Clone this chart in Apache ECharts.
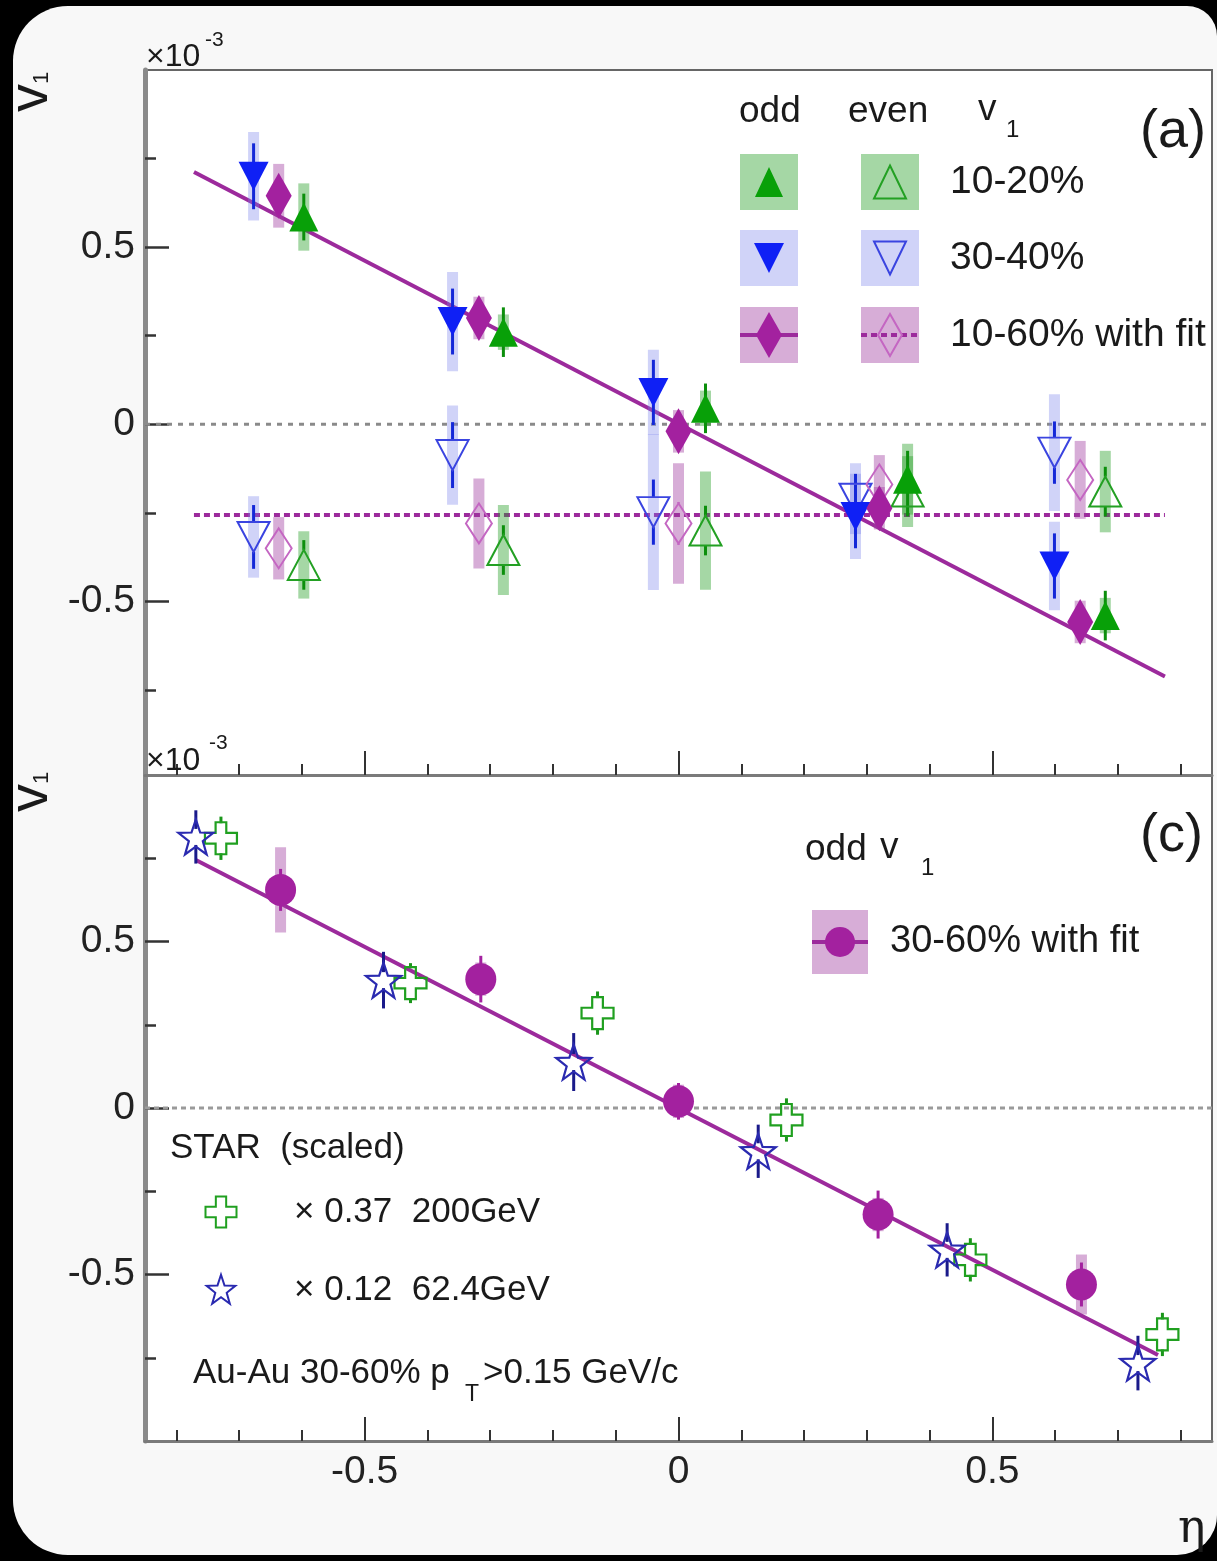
<!DOCTYPE html>
<html>
<head>
<meta charset="utf-8">
<script src="https://cdn.jsdelivr.net/npm/echarts@6/dist/echarts.min.js"></script>
<style>
html, body { margin: 0; padding: 0; background: #000; }
#card { position: absolute; left: 13px; top: 6px; width: 1204px; height: 1549px; background: #f8f8f8; border-radius: 55px 30px 40px 55px; }
#chart { position: absolute; left: 0; top: 0; width: 1217px; height: 1561px; }
</style>
</head>
<body>
<div id="card"></div>
<div id="chart"></div>
<script>
var FONT = '"Liberation Sans", Helvetica, Arial, sans-serif';

// tick positions
var xMajor = [-0.5, 0, 0.5];
var xMinor = [-0.8, -0.7, -0.6, -0.4, -0.3, -0.2, -0.1, 0.1, 0.2, 0.3, 0.4, 0.6, 0.7, 0.8];
var yMajor = [-0.5, 0, 0.5];
var yMinor = [-0.75, -0.25, 0.25, 0.75];

// panel (a): eta of each centrality (points are shifted a bit)
var etaA3040 = [-0.677, -0.360, -0.040, 0.282, 0.599];
var etaA1060 = [-0.637, -0.318, 0.000, 0.320, 0.640];
var etaA1020 = [-0.597, -0.279, 0.043, 0.365, 0.680];

// panel (a): odd v1, x1e-3
var odd3040 = [0.70, 0.29, 0.09, -0.26, -0.40];
var odd3040Stat = [0.093, 0.093, 0.092, 0.09, 0.092];
var odd3040Sys = [0.125, 0.14, 0.12, 0.12, 0.125];
var odd1060 = [0.645, 0.30, -0.02, -0.237, -0.558];
var odd1060Stat = [0.05, 0.05, 0.05, 0.05, 0.05];
var odd1060Sys = [0.09, 0.06, 0.06, 0.06, 0.06];
var odd1020 = [0.585, 0.26, 0.045, -0.155, -0.54];
var odd1020Stat = [0.066, 0.07, 0.07, 0.08, 0.07];
var odd1020Sys = [0.095, 0.05, 0.05, 0.1, 0.05];

// panel (a): even v1
var even3040 = [-0.318, -0.087, -0.248, -0.21, -0.08];
var even3040Stat = [0.09, 0.093, 0.092, 0.07, 0.088];
var even3040Sys = [0.115, 0.14, 0.22, 0.1, 0.165];
var even1060 = [-0.35, -0.28, -0.28, -0.17, -0.157];
var even1060Stat = [0.05, 0.05, 0.06, 0.05, 0.05];
var even1060Sys = [0.088, 0.127, 0.17, 0.083, 0.11];
var even1020 = [-0.397, -0.355, -0.30, -0.19, -0.19];
var even1020Stat = [0.07, 0.07, 0.07, 0.07, 0.07];
var even1020Sys = [0.095, 0.127, 0.167, 0.1, 0.115];

// panel (a): fits
var fitEtaA = [-0.772, 0.775];
var oddFitA = [0.712, -0.712];
var evenFitA = [-0.256, -0.256];

// panel (c): 30-60% odd v1
var etaC3060 = [-0.634, -0.315, 0.0, 0.318, 0.642];
var odd3060 = [0.655, 0.387, 0.02, -0.32, -0.53];
var odd3060Stat = [0.063, 0.07, 0.055, 0.072, 0.066];
var odd3060Sys = [0.128, 0.05, 0.05, 0.05, 0.09];
var fitEtaC = [-0.769, 0.764];
var oddFitC = [0.745, -0.742];

// panel (c): STAR scaled
var eta200 = [-0.729, -0.427, -0.129, 0.172, 0.465, 0.771];
var star200 = [0.81, 0.375, 0.285, -0.036, -0.456, -0.68];
var star200Err = [0.065, 0.06, 0.065, 0.065, 0.065, 0.065];
var eta62 = [-0.769, -0.47, -0.167, 0.127, 0.428, 0.732];
var star62 = [0.814, 0.384, 0.138, -0.13, -0.426, -0.766];
var star62Err = [0.08, 0.085, 0.087, 0.08, 0.08, 0.082];

var zeroEta = [-0.85, 0.85];
var zeroV = [0, 0];

var C = {
    green: '#08a008', greenOpen: '#23a023', greenBar: '#0c8f0c', greenBox: 'rgba(40,160,40,0.42)',
    blue: '#0f20f5', blueOpen: '#3a44e0', blueBar: '#1428d8', blueBox: 'rgba(120,130,235,0.35)',
    purple: '#a3219f', purpleOpen: '#c466c2', purpleBox: 'rgba(160,60,160,0.42)',
    fit: '#9c2a9c', navy: '#2a2ab0', navyBar: '#1a1a8a'
};

// marker outlines, unit box 0..1
var crossPts = [[1/3, 0], [2/3, 0], [2/3, 1/3], [1, 1/3], [1, 2/3], [2/3, 2/3], [2/3, 1], [1/3, 1], [1/3, 2/3], [0, 2/3], [0, 1/3], [1/3, 1/3]];
var starPts = (function () {
    var pts = [];
    for (var k = 0; k < 10; k++) {
        var a = -Math.PI / 2 + k * Math.PI / 5;
        var r = k % 2 ? 0.2 : 0.5;
        pts.push([0.5 + r * Math.cos(a), (0.5 + r * Math.sin(a) - 0.0225) / 0.905]);
    }
    return pts;
})();
function toPath(pts) {
    return 'path://M' + pts.map(function (p) { return (p[0] * 100).toFixed(1) + ',' + (p[1] * 100).toFixed(1); }).join(' L') + ' Z';
}
function placePts(pts, cx, cy, w, h) {
    return pts.map(function (p) { return [cx - w / 2 + p[0] * w, cy - h / 2 + p[1] * h]; });
}

function pairs(xs, ys) {
    return xs.map(function (x, i) { return [x, ys[i]]; });
}
function fmt(v) { return v === 0 ? '0' : String(v); }

function xAxes(grid, labels) {
    return [{
        gridIndex: grid, type: 'value', min: -0.85, max: 0.85, position: 'bottom',
        axisLine: { show: true, onZero: false, lineStyle: { color: '#7a7a7a', width: 3 } },
        axisTick: { show: true, inside: true, length: 24, customValues: xMajor, lineStyle: { color: '#333', width: 2 } },
        axisLabel: { show: labels, customValues: xMajor, margin: 12, fontSize: 39, fontFamily: FONT, color: '#222', formatter: fmt },
        splitLine: { show: false }
    }, {
        gridIndex: grid, type: 'value', min: -0.85, max: 0.85, position: 'bottom',
        axisLine: { show: false, onZero: false },
        axisTick: { show: true, inside: true, length: 11, customValues: xMinor, lineStyle: { color: '#333', width: 2 } },
        axisLabel: { show: false }, splitLine: { show: false }
    }];
}
function yAxes(grid, min, max) {
    return [{
        gridIndex: grid, type: 'value', min: min, max: max, position: 'left',
        axisLine: { show: true, onZero: false, lineStyle: { color: '#8a8a8a', width: 5 } },
        axisTick: { show: true, inside: true, length: 24, customValues: yMajor, lineStyle: { color: '#333', width: 2.5 } },
        axisLabel: { show: true, customValues: yMajor, margin: 10, fontSize: 39, fontFamily: FONT, color: '#222', formatter: fmt },
        splitLine: { show: false }
    }, {
        gridIndex: grid, type: 'value', min: min, max: max, position: 'left',
        axisLine: { show: false, onZero: false },
        axisTick: { show: true, inside: true, length: 11, customValues: yMinor, lineStyle: { color: '#333', width: 2.5 } },
        axisLabel: { show: false }, splitLine: { show: false }
    }];
}

function lineSeries(ax, xs, ys, color, width, type, z) {
    return {
        type: 'line', xAxisIndex: ax, yAxisIndex: ax, data: pairs(xs, ys), symbol: 'none', silent: true, z: z,
        lineStyle: { color: color, width: width, type: type }
    };
}

function boxSeries(ax, xs, ys, sys, color) {
    return {
        type: 'custom', xAxisIndex: ax, yAxisIndex: ax, z: 3, silent: true,
        data: xs.map(function (x, i) { return [x, ys[i] + sys[i], ys[i] - sys[i]]; }),
        encode: { x: 0, y: [1, 2] },
        renderItem: function (params, api) {
            var hi = api.coord([api.value(0), api.value(1)]);
            var lo = api.coord([api.value(0), api.value(2)]);
            return { type: 'rect', shape: { x: hi[0] - 5.5, y: hi[1], width: 11, height: lo[1] - hi[1] }, style: { fill: color } };
        }
    };
}

function errSeries(ax, xs, ys, err, color, gap) {
    return {
        type: 'custom', xAxisIndex: ax, yAxisIndex: ax, z: 4, silent: true,
        data: xs.map(function (x, i) { return [x, ys[i], ys[i] + err[i], ys[i] - err[i]]; }),
        encode: { x: 0, y: [2, 3] },
        renderItem: function (params, api) {
            var c = api.coord([api.value(0), api.value(1)]);
            var hi = api.coord([api.value(0), api.value(2)]);
            var lo = api.coord([api.value(0), api.value(3)]);
            var kids = [];
            if (c[1] - gap > hi[1]) kids.push({ type: 'line', shape: { x1: c[0], y1: hi[1], x2: c[0], y2: c[1] - gap }, style: { stroke: color, lineWidth: 3 } });
            if (c[1] + gap < lo[1]) kids.push({ type: 'line', shape: { x1: c[0], y1: c[1] + gap, x2: c[0], y2: lo[1] }, style: { stroke: color, lineWidth: 3 } });
            return { type: 'group', children: kids };
        }
    };
}

function markSeries(ax, xs, ys, symbol, size, rot, fill, stroke, bw) {
    return {
        type: 'scatter', xAxisIndex: ax, yAxisIndex: ax, z: 5, silent: true,
        data: pairs(xs, ys), symbol: symbol, symbolSize: size, symbolRotate: rot,
        itemStyle: { color: fill, borderColor: stroke || fill, borderWidth: stroke ? (bw || 2) : 0, opacity: 1 }
    };
}

var series = [
    // panel (a)
    lineSeries(0, zeroEta, zeroV, '#8a8a8a', 3, [5, 6], 2),
    lineSeries(0, fitEtaA, evenFitA, C.fit, 4, [6, 4], 2),
    lineSeries(0, fitEtaA, oddFitA, C.fit, 4, 'solid', 2),
    boxSeries(0, etaA3040, odd3040, odd3040Sys, C.blueBox),
    boxSeries(0, etaA1060, odd1060, odd1060Sys, C.purpleBox),
    boxSeries(0, etaA1020, odd1020, odd1020Sys, C.greenBox),
    boxSeries(0, etaA3040, even3040, even3040Sys, C.blueBox),
    boxSeries(0, etaA1060, even1060, even1060Sys, C.purpleBox),
    boxSeries(0, etaA1020, even1020, even1020Sys, C.greenBox),
    errSeries(0, etaA3040, odd3040, odd3040Stat, C.blueBar, 0),
    errSeries(0, etaA1060, odd1060, odd1060Stat, C.purple, 0),
    errSeries(0, etaA1020, odd1020, odd1020Stat, C.greenBar, 0),
    errSeries(0, etaA3040, even3040, even3040Stat, C.blueBar, 15),
    errSeries(0, etaA1060, even1060, even1060Stat, C.purpleOpen, 20),
    errSeries(0, etaA1020, even1020, even1020Stat, C.greenBar, 15),
    markSeries(0, etaA3040, even3040, 'triangle', [32, 30], 180, 'rgba(0,0,0,0)', C.blueOpen),
    markSeries(0, etaA1060, even1060, 'diamond', [26, 40], 0, 'rgba(0,0,0,0)', C.purpleOpen),
    markSeries(0, etaA1020, even1020, 'triangle', [32, 30], 0, 'rgba(0,0,0,0)', C.greenOpen),
    markSeries(0, etaA3040, odd3040, 'triangle', [30, 29], 180, C.blue),
    markSeries(0, etaA1060, odd1060, 'diamond', [26, 46], 0, C.purple),
    markSeries(0, etaA1020, odd1020, 'triangle', [29, 29], 0, C.green),
    // panel (c)
    lineSeries(2, zeroEta, zeroV, '#9a9a9a', 3, [5, 4], 2),
    lineSeries(2, fitEtaC, oddFitC, C.fit, 4, 'solid', 2),
    boxSeries(2, etaC3060, odd3060, odd3060Sys, C.purpleBox),
    errSeries(2, etaC3060, odd3060, odd3060Stat, C.purple, 0),
    errSeries(2, eta200, star200, star200Err, '#1a961a', 15),
    errSeries(2, eta62, star62, star62Err, C.navyBar, 8),
    markSeries(2, eta200, star200, toPath(crossPts), 32, 0, 'rgba(0,0,0,0)', '#20a020', 2.2),
    markSeries(2, eta62, star62, toPath(starPts), 35, 0, 'rgba(0,0,0,0)', C.navy, 2.2),
    markSeries(2, etaC3060, odd3060, 'circle', [31, 32], 0, C.purple)
];

// graphic helpers for legends and titles
function txt(x, y, s, size, o) {
    o = o || {};
    return {
        type: 'text', x: x, y: y, rotation: o.rot || 0, z: 100,
        style: {
            text: s, fontSize: size, fontFamily: o.family || FONT, fill: '#1a1a1a',
            align: 'left', verticalAlign: 'middle', textAlign: 'left', textVerticalAlign: 'middle'
        }
    };
}
function rect(cx, cy, w, h, fill) {
    return { type: 'rect', z: 100, shape: { x: cx - w / 2, y: cy - h / 2, width: w, height: h }, style: { fill: fill } };
}
function poly(pts, style) {
    return { type: 'polygon', z: 102, shape: { points: pts }, style: style };
}
function tri(cx, cy, w, h, down, style) {
    var t = down ? 1 : -1;
    return poly([[cx, cy + t * h / 2], [cx + w / 2, cy - t * h / 2], [cx - w / 2, cy - t * h / 2]], style);
}
function dia(cx, cy, w, h, style) {
    return poly([[cx, cy - h / 2], [cx + w / 2, cy], [cx, cy + h / 2], [cx - w / 2, cy]], style);
}
function hline(x1, x2, y, style) {
    return { type: 'line', z: 101, shape: { x1: x1, y1: y, x2: x2, y2: y }, style: style };
}

var open = function (c) { return { fill: 'none', stroke: c, lineWidth: 2 }; };
var graphics = [
    // axis titles
    txt(32, 112, 'v', 56, { rot: Math.PI / 2 }),
    txt(42, 84, '1', 22, { rot: Math.PI / 2 }),
    txt(32, 812, 'v', 56, { rot: Math.PI / 2 }),
    txt(42, 784, '1', 22, { rot: Math.PI / 2 }),
    txt(146, 57, '\u00d710', 32),
    txt(205, 40, '-3', 21),
    txt(146, 761, '\u00d710', 32),
    txt(209, 743, '-3', 21),
    txt(1178, 1530, '\u03b7', 46, { family: '"DejaVu Serif", "Liberation Serif", serif' }),
    // legend (a)
    txt(1140, 132, '(a)', 54),
    txt(739, 112, 'odd', 37),
    txt(848, 112, 'even', 37),
    txt(978, 110, 'v', 37),
    txt(1006, 130, '1', 24),
    rect(769, 182, 58, 56, C.greenBox), rect(890, 182, 58, 56, C.greenBox),
    rect(769, 258, 58, 56, C.blueBox), rect(890, 258, 58, 56, C.blueBox),
    rect(769, 335, 58, 56, C.purpleBox), rect(890, 335, 58, 56, C.purpleBox),
    tri(769, 182, 28, 30, false, { fill: C.green }),
    tri(890, 182, 32, 33, false, open(C.greenOpen)),
    tri(769, 258, 30, 30, true, { fill: C.blue }),
    tri(890, 258, 32, 33, true, open(C.blueOpen)),
    hline(740, 798, 335, { stroke: C.fit, lineWidth: 4 }),
    hline(861, 919, 335, { stroke: C.fit, lineWidth: 4, lineDash: [6, 4] }),
    dia(769, 335, 26, 46, { fill: C.purple }),
    dia(890, 335, 24, 42, open(C.purpleOpen)),
    txt(950, 182, '10-20%', 39),
    txt(950, 258, '30-40%', 39),
    txt(950, 335, '10-60% with fit', 39),
    // legend (c)
    txt(1140, 836, '(c)', 54),
    txt(805, 850, 'odd', 37),
    txt(880, 848, 'v', 37),
    txt(921, 868, '1', 24),
    rect(840, 942, 56, 64, C.purpleBox),
    hline(812, 868, 942, { stroke: C.fit, lineWidth: 4 }),
    { type: 'circle', z: 102, shape: { cx: 840, cy: 942, r: 15 }, style: { fill: C.purple } },
    txt(890, 942, '30-60% with fit', 38),
    // STAR note
    txt(170, 1148, 'STAR  (scaled)', 35),
    poly(placePts(crossPts, 221, 1212, 31, 31), open('#20a020')),
    txt(294, 1212, '\u00d7 0.37  200GeV', 35),
    poly(placePts(starPts, 221, 1290, 30, 29), open(C.navy)),
    txt(294, 1290, '\u00d7 0.12  62.4GeV', 35),
    txt(193, 1373, 'Au-Au 30-60% p', 35),
    txt(465, 1395, 'T', 23),
    txt(483, 1373, '>0.15 GeV/c', 35)
];

var chart = echarts.init(document.getElementById('chart'));
chart.setOption({
    backgroundColor: 'transparent',
    animation: false,
    grid: [
        { left: 145, top: 70, width: 1067, height: 705, show: true, backgroundColor: '#fff', borderColor: '#666', borderWidth: 2, outerBoundsMode: 'none' },
        { left: 145, top: 775, width: 1067, height: 666, show: true, backgroundColor: '#fff', borderColor: '#666', borderWidth: 2, outerBoundsMode: 'none' }
    ],
    xAxis: xAxes(0, false).concat(xAxes(1, true)),
    yAxis: yAxes(0, -0.99, 1.0).concat(yAxes(1, -1, 1)),
    series: series,
    graphic: { elements: graphics }
});
</script>
</body>
</html>
